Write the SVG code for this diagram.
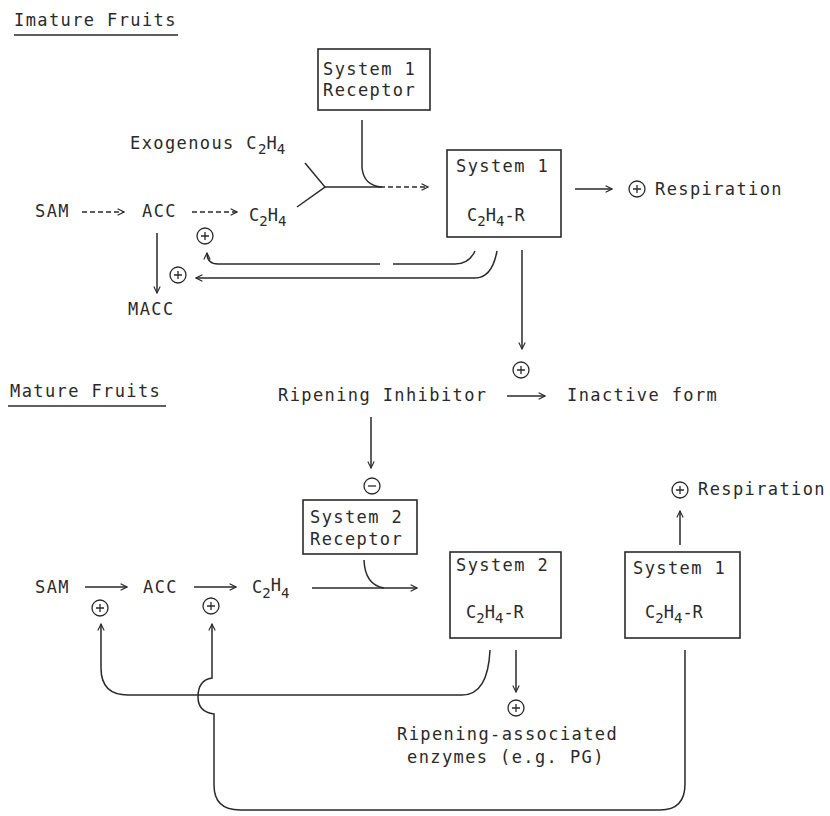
<svg xmlns="http://www.w3.org/2000/svg" xmlns:xlink="http://www.w3.org/1999/xlink" width="830" height="816" viewBox="0 0 830 816">
<style>
.t{font-family:"DejaVu Sans Mono","Liberation Mono",monospace;font-size:17px;letter-spacing:1.4px;fill:#2a2a2a}
.f{font-family:"DejaVu Sans Mono","Liberation Mono",monospace;font-size:17px;fill:#2a2a2a}
.s{font-size:14px}
.box{fill:none;stroke:#2a2a2a;stroke-width:1.6}
.ln{fill:none;stroke:#2a2a2a;stroke-width:1.5}
.ar{marker-end:url(#ah)}
.dash{stroke-dasharray:5 3}
.sg circle{fill:none;stroke:#2a2a2a;stroke-width:1.3}
.sg path{stroke:#2a2a2a;stroke-width:1.3}
</style>
<defs>
<marker id="ah" viewBox="0 0 10 10" refX="9" refY="5" markerWidth="8" markerHeight="8" orient="auto" markerUnits="userSpaceOnUse">
<path d="M1,1 L9,5 L1,9" fill="none" stroke="#2a2a2a" stroke-width="1.4"/>
</marker>
<g id="plus" class="sg"><circle r="8"/><path d="M-4,0H4M0,-4V4"/></g>
<g id="minus" class="sg"><circle r="8"/><path d="M-4,0H4"/></g>
</defs>
<rect width="830" height="816" fill="#ffffff"/>

<g id="title-immature">
<text class="t" x="14" y="26">Imature Fruits</text>
<path class="ln" d="M14,35H178"/>
</g>
<g id="sys1-receptor">
<rect class="box" x="318" y="49" width="112" height="61"/>
<text class="t" x="323" y="75">System 1</text>
<text class="t" x="323" y="96">Receptor</text>
</g>
<g id="exo-c2h4">
<text class="f" x="130" y="149"><tspan style="letter-spacing:1.4px">Exogenous C</tspan><tspan class="s" dy="5">2</tspan><tspan dy="-5">H</tspan><tspan class="s" dy="5">4</tspan></text>
</g>
<g id="sam-top"><text class="t" x="35" y="217">SAM</text></g>
<g id="acc-top"><text class="t" x="142" y="217">ACC</text></g>
<g id="c2h4-top"><text class="f" x="249" y="221">C<tspan class="s" dy="5">2</tspan><tspan dy="-5">H</tspan><tspan class="s" dy="5">4</tspan></text></g>
<g id="macc"><text class="t" x="128" y="315">MACC</text></g>
<g id="sys1-top">
<rect class="box" x="447" y="150" width="114" height="87"/>
<text class="t" x="456" y="172">System 1</text>
<text class="f" x="467" y="221">C<tspan class="s" dy="5">2</tspan><tspan dy="-5">H</tspan><tspan class="s" dy="5">4</tspan><tspan dy="-5">-R</tspan></text>
</g>
<g id="resp-top"><text class="t" x="655" y="195">Respiration</text></g>

<g id="title-mature">
<text class="t" x="10" y="397">Mature Fruits</text>
<path class="ln" d="M8,406H166"/>
</g>
<g id="ripening-inhibitor"><text class="t" x="278" y="401">Ripening Inhibitor</text></g>
<g id="inactive-form"><text class="t" x="567" y="401">Inactive form</text></g>
<g id="sys2-receptor">
<rect class="box" x="303" y="500" width="114" height="54"/>
<text class="t" x="310" y="523">System 2</text>
<text class="t" x="310" y="545">Receptor</text>
</g>
<g id="sam-bottom"><text class="t" x="35" y="593">SAM</text></g>
<g id="acc-bottom"><text class="t" x="143" y="593">ACC</text></g>
<g id="c2h4-bottom"><text class="f" x="252" y="593">C<tspan class="s" dy="5">2</tspan><tspan dy="-7">H</tspan><tspan class="s" dy="7">4</tspan></text></g>
<g id="sys2-bottom">
<rect class="box" x="450" y="552" width="111" height="86"/>
<text class="t" x="456" y="571">System 2</text>
<text class="f" x="466" y="618">C<tspan class="s" dy="5">2</tspan><tspan dy="-5">H</tspan><tspan class="s" dy="5">4</tspan><tspan dy="-5">-R</tspan></text>
</g>
<g id="sys1-bottom">
<rect class="box" x="625" y="552" width="115" height="86"/>
<text class="t" x="633" y="574">System 1</text>
<text class="f" x="645" y="618">C<tspan class="s" dy="5">2</tspan><tspan dy="-5">H</tspan><tspan class="s" dy="5">4</tspan><tspan dy="-5">-R</tspan></text>
</g>
<g id="resp-bottom"><text class="t" x="698" y="495">Respiration</text></g>
<g id="enzymes">
<text class="t" x="397" y="740">Ripening-associated</text>
<text class="t" x="407" y="763">enzymes (e.g. PG)</text>
</g>

<g id="signs">
<use href="#plus" x="205" y="236"/>
<use href="#plus" x="178" y="275"/>
<use href="#plus" x="637" y="189"/>
<use href="#plus" x="521" y="370"/>
<use href="#minus" x="372" y="486"/>
<use href="#plus" x="100" y="608"/>
<use href="#plus" x="211" y="606"/>
<use href="#plus" x="680" y="490"/>
<use href="#plus" x="516" y="708"/>
</g>

<g id="connectors">
<!-- top row -->
<path class="ln dash ar" d="M82,212H124"/>
<path class="ln dash ar" d="M192,212H237"/>
<path class="ln" d="M305,163L325,187L297,207"/>
<path class="ln" d="M325,187H380"/>
<path class="ln dash ar" d="M380,187H428"/>
<path class="ln" d="M362,120V168Q364,186 382,187"/>
<path class="ln ar" d="M157,233V293"/>
<path class="ln" d="M475,251Q469,264 455,264H393"/>
<path class="ln ar" d="M380,264H218Q207,264 207,253"/>
<path class="ln ar" d="M497,251Q492,278 475,278H196"/>
<path class="ln ar" d="M575,189H612"/>
<path class="ln ar" d="M522,250V349"/>
<!-- middle -->
<path class="ln ar" d="M507,396H545"/>
<path class="ln ar" d="M371,417V468"/>
<!-- bottom row -->
<path class="ln ar" d="M85,587H127"/>
<path class="ln ar" d="M194,587H236"/>
<path class="ln ar" d="M312,588H417"/>
<path class="ln" d="M364,560Q365,585 384,588"/>
<path class="ln ar" d="M680,545V511"/>
<path class="ln ar" d="M516,650V692"/>
<path class="ln ar" d="M490,650Q488,695 462,695H128Q101,695 101,668V624"/>
<path class="ln ar" d="M685,650V784Q685,810 660,810H240Q214,810 214,785V714Q198,712 198,697Q198,680 212,678V624"/>
</g>
</svg>
